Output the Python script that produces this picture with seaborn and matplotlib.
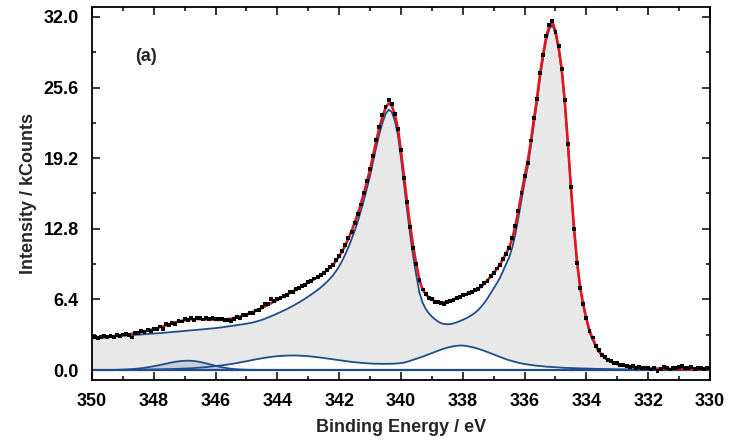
import numpy as np
import matplotlib
matplotlib.use("Agg")
import matplotlib.pyplot as plt
import seaborn as sns
from matplotlib.ticker import MultipleLocator, FixedLocator, FixedFormatter

# ---------------- data ----------------
# binding-energy grid of the measured spectrum, 350.0 -> 330.0 eV in 0.1 eV steps
energy = np.round(np.linspace(350.0, 330.0, 201), 1)

# measured intensity (kCounts)
data_counts = [
    2.95, 3.00, 2.88, 3.02, 3.05, 2.97, 3.10, 3.00, 3.15, 3.08,
    3.22, 3.30, 3.15, 2.95, 3.35, 3.40, 3.52, 3.45, 3.60, 3.55,
    3.75, 3.68, 3.95, 3.70, 4.15, 4.05, 4.30, 4.20, 4.45, 4.40,
    4.60, 4.50, 4.72, 4.55, 4.68, 4.75, 4.58, 4.70, 4.62, 4.68,
    4.62, 4.60, 4.65, 4.50, 4.55, 4.48, 4.62, 4.80, 4.70, 4.95,
    4.95, 5.15, 5.20, 5.40, 5.45, 5.70, 5.95, 6.00, 6.40, 6.25,
    6.45, 6.50, 6.75, 6.80, 7.05, 7.10, 7.35, 7.40, 7.65, 7.70,
    7.95, 8.05, 8.30, 8.40, 8.65, 8.80, 9.05, 9.30, 9.55, 9.95,
    10.30, 10.80, 11.30, 11.95, 12.55, 13.35, 14.15, 15.00, 16.05, 17.10,
    18.25, 19.40, 20.85, 22.00, 23.10, 23.85, 24.45, 24.15, 23.20, 21.85,
    19.90, 17.40, 15.20, 13.00, 11.10, 9.60, 8.20, 7.30, 6.90, 6.55,
    6.40, 6.20, 6.15, 6.05, 6.00, 6.15, 6.25, 6.35, 6.55, 6.60,
    6.80, 6.85, 7.00, 7.05, 7.25, 7.35, 7.60, 7.85, 8.10, 8.50,
    8.80, 9.20, 9.50, 10.05, 10.55, 11.10, 11.95, 13.05, 14.45, 16.05,
    17.60, 18.80, 20.80, 22.80, 24.55, 26.95, 28.55, 30.25, 31.30, 31.65,
    30.60, 29.40, 27.30, 24.50, 20.50, 16.60, 12.80, 9.70, 7.40, 6.00,
    4.70, 3.55, 2.95, 2.20, 1.80, 1.35, 1.20, 0.90, 0.85, 0.65,
    0.60, 0.45, 0.50, 0.35, 0.30, 0.35, 0.20, 0.25, 0.15, 0.20,
    0.15, 0.05, 0.20, -0.05, 0.10, 0.25, 0.15, 0.05, 0.20, 0.15,
    0.30, 0.35, 0.20, 0.15, 0.25, 0.10, 0.20, 0.15, 0.10, 0.20, 0.15,
]

# total fit envelope (red)
fit_total = [
    2.90, 2.92, 2.94, 2.96, 2.99, 3.01, 3.04, 3.06, 3.09, 3.13,
    3.16, 3.19, 3.23, 3.28, 3.32, 3.37, 3.43, 3.49, 3.56, 3.63,
    3.71, 3.78, 3.88, 3.96, 4.06, 4.14, 4.24, 4.32, 4.40, 4.46,
    4.52, 4.56, 4.60, 4.62, 4.63, 4.62, 4.61, 4.59, 4.58, 4.56,
    4.55, 4.54, 4.55, 4.58, 4.61, 4.65, 4.71, 4.78, 4.85, 4.94,
    5.03, 5.13, 5.25, 5.36, 5.49, 5.62, 5.77, 5.92, 6.08, 6.23,
    6.38, 6.53, 6.68, 6.83, 6.98, 7.13, 7.29, 7.44, 7.60, 7.76,
    7.92, 8.08, 8.25, 8.43, 8.61, 8.81, 9.03, 9.28, 9.57, 9.90,
    10.29, 10.77, 11.31, 11.92, 12.59, 13.33, 14.14, 15.05, 16.03, 17.09,
    18.19, 19.48, 20.77, 21.96, 22.96, 23.76, 24.16, 23.97, 23.18, 21.90,
    19.83, 17.48, 15.15, 13.04, 11.13, 9.52, 8.11, 7.31, 6.87, 6.58,
    6.39, 6.25, 6.16, 6.11, 6.12, 6.18, 6.27, 6.39, 6.52, 6.66,
    6.77, 6.87, 6.97, 7.08, 7.21, 7.38, 7.59, 7.84, 8.13, 8.47,
    8.81, 9.15, 9.54, 10.03, 10.58, 11.09, 11.91, 13.03, 14.46, 16.00,
    17.55, 18.90, 20.66, 22.72, 24.59, 26.86, 28.63, 30.21, 31.19, 31.57,
    30.70, 29.33, 27.32, 24.40, 20.59, 16.58, 12.87, 9.76, 7.50, 5.94,
    4.68, 3.57, 2.87, 2.26, 1.75, 1.40, 1.14, 0.95, 0.80, 0.68,
    0.57, 0.50, 0.44, 0.38, 0.33, 0.29, 0.25, 0.22, 0.20, 0.18,
    0.16, 0.15, 0.14, 0.14, 0.13, 0.12, 0.11, 0.11, 0.11, 0.10,
    0.10, 0.10, 0.10, 0.08, 0.08, 0.08, 0.08, 0.08, 0.07, 0.07, 0.07,
]

# main doublet component (blue, grey filled)
main_doublet = [
    2.90, 2.92, 2.94, 2.96, 2.98, 3.00, 3.02, 3.04, 3.06, 3.08,
    3.10, 3.12, 3.14, 3.16, 3.18, 3.20, 3.22, 3.24, 3.26, 3.28,
    3.30, 3.32, 3.35, 3.37, 3.40, 3.42, 3.45, 3.47, 3.50, 3.52,
    3.55, 3.57, 3.60, 3.62, 3.65, 3.67, 3.70, 3.72, 3.75, 3.77,
    3.80, 3.83, 3.87, 3.91, 3.95, 3.99, 4.03, 4.07, 4.11, 4.15,
    4.20, 4.25, 4.31, 4.38, 4.46, 4.55, 4.65, 4.76, 4.88, 5.00,
    5.12, 5.25, 5.38, 5.52, 5.66, 5.81, 5.97, 6.13, 6.30, 6.48,
    6.66, 6.85, 7.05, 7.26, 7.48, 7.72, 7.98, 8.27, 8.60, 8.97,
    9.40, 9.92, 10.50, 11.15, 11.85, 12.62, 13.46, 14.40, 15.40, 16.48,
    17.60, 18.90, 20.20, 21.40, 22.40, 23.20, 23.60, 23.40, 22.60, 21.30,
    19.20, 16.80, 14.40, 12.20, 10.20, 8.50, 7.00, 6.10, 5.55, 5.15,
    4.85, 4.60, 4.40, 4.25, 4.17, 4.15, 4.17, 4.23, 4.32, 4.43,
    4.55, 4.68, 4.83, 5.00, 5.20, 5.45, 5.75, 6.10, 6.50, 6.95,
    7.40, 7.85, 8.35, 8.95, 9.60, 10.20, 11.10, 12.30, 13.80, 15.40,
    17.00, 18.40, 20.20, 22.30, 24.20, 26.50, 28.30, 29.90, 30.90, 31.30,
    30.45, 29.10, 27.10, 24.20, 20.40, 16.40, 12.70, 9.60, 7.35, 5.80,
    4.55, 3.45, 2.75, 2.15, 1.65, 1.30, 1.05, 0.86, 0.72, 0.60,
    0.50, 0.43, 0.37, 0.32, 0.27, 0.23, 0.20, 0.17, 0.15, 0.13,
    0.12, 0.11, 0.10, 0.10, 0.09, 0.09, 0.08, 0.08, 0.08, 0.07,
    0.07, 0.07, 0.07, 0.06, 0.06, 0.06, 0.06, 0.06, 0.05, 0.05, 0.05,
]

# satellite doublet component (blue)
satellite_doublet = [
    0.00, 0.00, 0.00, 0.00, 0.01, 0.01, 0.01, 0.01, 0.01, 0.02,
    0.02, 0.02, 0.02, 0.03, 0.03, 0.03, 0.04, 0.04, 0.05, 0.05,
    0.06, 0.06, 0.07, 0.07, 0.08, 0.08, 0.09, 0.10, 0.11, 0.12,
    0.13, 0.14, 0.16, 0.18, 0.20, 0.22, 0.24, 0.27, 0.30, 0.33,
    0.36, 0.39, 0.42, 0.46, 0.50, 0.54, 0.59, 0.64, 0.69, 0.75,
    0.80, 0.86, 0.92, 0.97, 1.02, 1.07, 1.12, 1.16, 1.20, 1.23,
    1.26, 1.28, 1.30, 1.31, 1.32, 1.32, 1.32, 1.31, 1.30, 1.28,
    1.26, 1.23, 1.20, 1.17, 1.13, 1.09, 1.05, 1.01, 0.97, 0.93,
    0.89, 0.85, 0.81, 0.77, 0.74, 0.71, 0.68, 0.65, 0.63, 0.61,
    0.59, 0.58, 0.57, 0.56, 0.56, 0.56, 0.56, 0.57, 0.58, 0.60,
    0.63, 0.68, 0.75, 0.84, 0.93, 1.02, 1.11, 1.21, 1.32, 1.43,
    1.54, 1.65, 1.76, 1.86, 1.95, 2.03, 2.10, 2.16, 2.20, 2.23,
    2.22, 2.19, 2.14, 2.08, 2.01, 1.93, 1.84, 1.74, 1.63, 1.52,
    1.41, 1.30, 1.19, 1.08, 0.98, 0.89, 0.81, 0.73, 0.66, 0.60,
    0.55, 0.50, 0.46, 0.42, 0.39, 0.36, 0.33, 0.31, 0.29, 0.27,
    0.25, 0.23, 0.22, 0.20, 0.19, 0.18, 0.17, 0.16, 0.15, 0.14,
    0.13, 0.12, 0.12, 0.11, 0.10, 0.10, 0.09, 0.09, 0.08, 0.08,
    0.07, 0.07, 0.07, 0.06, 0.06, 0.06, 0.05, 0.05, 0.05, 0.05,
    0.04, 0.04, 0.04, 0.04, 0.04, 0.03, 0.03, 0.03, 0.03, 0.03,
    0.03, 0.03, 0.03, 0.02, 0.02, 0.02, 0.02, 0.02, 0.02, 0.02, 0.02,
]

# small component near 347 eV (349.5 -> 344.5 eV, 0.1 eV steps)
energy_small = np.round(np.linspace(349.5, 344.5, 51), 1)
small_component = [
    0.00, 0.01, 0.01, 0.02, 0.03, 0.04,
    0.05, 0.07, 0.09, 0.11, 0.14, 0.17, 0.21, 0.25, 0.30, 0.35,
    0.40, 0.46, 0.52, 0.58, 0.64, 0.70, 0.75, 0.79, 0.82, 0.84,
    0.85, 0.84, 0.82, 0.78, 0.73, 0.67, 0.60, 0.53, 0.46, 0.39,
    0.32, 0.26, 0.21, 0.16, 0.12, 0.09, 0.07, 0.05, 0.04, 0.03,
    0.02, 0.02, 0.01, 0.01, 0.00,
]

baseline_x = [350.0, 330.0]
baseline_y = [0.0, 0.0]

x_ticks = [350, 348, 346, 344, 342, 340, 338, 336, 334, 332, 330]
y_ticks = [0.0, 6.4, 12.8, 19.2, 25.6, 32.0]
y_tick_labels = ["0.0", "6.4", "12.8", "19.2", "25.6", "32.0"]

# ---------------- styling ----------------
sns.set_theme(style="ticks")
plt.rcParams["font.family"] = ["Liberation Sans", "DejaVu Sans"]
plt.rcParams["font.weight"] = "bold"

BLUE = "#1f4d8a"
RED = "#e3161d"
GREY = "#e8e8e8"
DARKGREY = "#c9cdd5"

fig = plt.figure(figsize=(7.34, 4.48), dpi=100)
ax = fig.add_axes([0.1253, 0.1518, 0.8420, 0.8326])

ax.fill_between(energy, satellite_doublet, main_doublet, color=GREY, lw=0, zorder=1)
ax.fill_between(energy_small, 0, small_component, color=DARKGREY, lw=0, zorder=1.5)

lw_blue = 1.3
sns.lineplot(x=baseline_x, y=baseline_y, color=BLUE, lw=1.6, ax=ax, sort=False, estimator=None, zorder=2)
sns.lineplot(x=energy_small, y=small_component, color=BLUE, lw=lw_blue, ax=ax, sort=False, estimator=None, zorder=2)
sns.lineplot(x=energy, y=satellite_doublet, color=BLUE, lw=lw_blue, ax=ax, sort=False, estimator=None, zorder=2)
sns.lineplot(x=energy, y=main_doublet, color=BLUE, lw=lw_blue, ax=ax, sort=False, estimator=None, zorder=2)
sns.lineplot(x=energy, y=fit_total, color=RED, lw=1.9, ax=ax, sort=False, estimator=None, zorder=3)
sns.scatterplot(x=energy, y=data_counts, marker="s", s=8, color="black", edgecolor="none",
                linewidth=0, ax=ax, zorder=4)

ax.set_xlim(350, 330)
ax.set_ylim(-0.9, 32.9)

ax.xaxis.set_major_locator(FixedLocator(x_ticks))
ax.xaxis.set_minor_locator(MultipleLocator(1))
ax.yaxis.set_major_locator(FixedLocator(y_ticks))
ax.yaxis.set_major_formatter(FixedFormatter(y_tick_labels))
ax.yaxis.set_minor_locator(MultipleLocator(3.2))

ax.tick_params(which="both", direction="in", top=True, right=True, colors="black",
               labelsize=13, width=1.1)
ax.tick_params(which="major", length=5.5, pad=9.5)
ax.tick_params(which="minor", length=3)
for lab in ax.get_xticklabels() + ax.get_yticklabels():
    lab.set_fontweight("bold")

for sp in ax.spines.values():
    sp.set_visible(True)
    sp.set_color("black")
    sp.set_linewidth(1.3)

ax.set_xlabel("Binding Energy / eV", fontsize=13, fontweight="bold", labelpad=6)
ax.set_ylabel("Intensity / kCounts", fontsize=13, fontweight="bold", labelpad=5)
ax.text(348.6, 28.4, "(a)", fontsize=13, fontweight="bold", ha="left", va="center")

fig.savefig("out.png", dpi=100)
